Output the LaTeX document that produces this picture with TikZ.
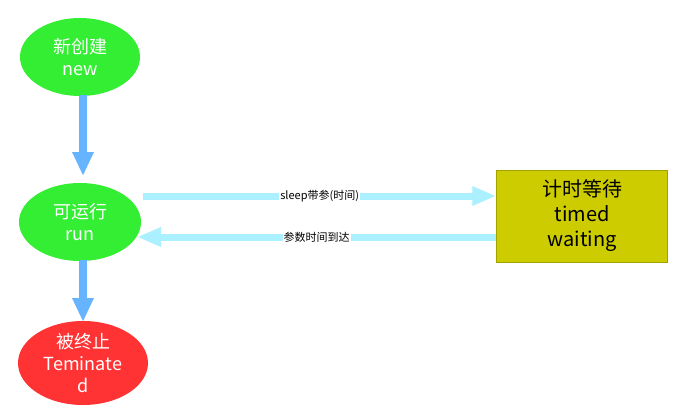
\documentclass[tikz,border=0pt]{standalone}
\usepackage{fontspec}
\setmainfont{Noto Sans CJK SC}
\usetikzlibrary{arrows.meta,shapes.geometric}
\definecolor{gr}{HTML}{33EE33}
\definecolor{rd}{HTML}{FF3333}
\definecolor{yl}{HTML}{CCCC00}
\definecolor{bl}{HTML}{66B3FF}
\definecolor{cy}{HTML}{AAF0FF}
\tikzset{st/.style={ellipse,draw=none,text=white,font=\fontsize{18}{22}\selectfont,align=center,inner sep=0pt},
 varr/.style={bl,line width=8pt,-{Triangle[width=20pt,length=24pt]}},
 harr/.style={cy,line width=7pt,-{Triangle[width=18pt,length=24pt]}},
 lab/.style={font=\fontsize{11}{13}\selectfont,text=black,fill=white,inner sep=1pt}}
\begin{document}
\begin{tikzpicture}[x=1pt,y=-1pt]
\useasboundingbox[fill=white] (0,0) rectangle (688,420);
\node[st,fill=gr,minimum width=120pt,minimum height=78pt] (n) at (80,57) {新创建\\new};
\node[st,fill=gr,minimum width=122pt,minimum height=78pt] (r) at (80,222) {可运行\\run};
\node[st,fill=rd,minimum width=130pt,minimum height=84pt] (t) at (83,363) {被终止\\Teminate\\d};
\node[fill=yl,draw=yl!80!black,minimum width=171pt,minimum height=92pt,align=center,font=\fontsize{20}{25}\selectfont,inner sep=0pt] (w) at (582,216) {计时等待\\timed\\waiting};
\draw[varr] (83,95) -- (83,176);
\draw[varr] (83,260) -- (83,322);
\draw[harr] (143,196) -- (w.west|-0,196) node[lab,midway] {sleep带参(时间)};
\draw[harr] (w.west|-0,237) -- (137,237) node[lab,midway] {参数时间到达};
\end{tikzpicture}
\end{document}
